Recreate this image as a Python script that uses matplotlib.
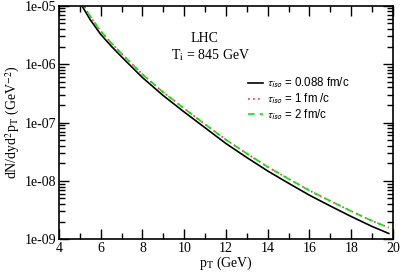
import numpy as np
import matplotlib
matplotlib.use('Agg')
import matplotlib.pyplot as plt
from matplotlib.ticker import LogLocator, MultipleLocator, NullFormatter

plt.rcParams['font.family'] = 'Liberation Serif'
plt.rcParams['mathtext.fontset'] = 'stix'

# photon spectra (log10 of dN/dyd2pT)
pT = [5.1, 5.5, 6.0, 6.5, 7.0, 8.0, 9.0, 10.0, 11.0, 12.0, 13.0, 14.0, 15.0, 16.0, 17.0, 18.0, 19.0, 19.8]
logTau0088 = [-5.00, -5.24, -5.49, -5.69, -5.875, -6.23, -6.54, -6.82, -7.09, -7.36, -7.60, -7.83, -8.04, -8.245, -8.43, -8.61, -8.78, -8.90]
logTau1 = [-4.945, -5.185, -5.435, -5.635, -5.82, -6.175, -6.483, -6.76, -7.03, -7.295, -7.532, -7.76, -7.965, -8.165, -8.344, -8.518, -8.684, -8.80]
logTau2 = [-4.945, -5.185, -5.435, -5.635, -5.82, -6.175, -6.483, -6.76, -7.03, -7.295, -7.532, -7.76, -7.965, -8.165, -8.344, -8.518, -8.684, -8.80]

labels = [r'$\tau_{\mathsf{iso}}$ = 0.088 fm/c', r'$\tau_{\mathsf{iso}}$ = 1 fm /c', r'$\tau_{\mathsf{iso}}$ = 2 fm/c']
yTicks = [1e-9, 1e-8, 1e-7, 1e-6, 1e-5]
yTickLabels = ['1e-09', '1e-08', '1e-07', '1e-06', '1e-05']
xTicks = [4, 6, 8, 10, 12, 14, 16, 18, 20]


def main():
    fig = plt.figure(figsize=(4.01, 2.73), dpi=100)
    ax = fig.add_axes([0.147, 0.1234, 0.833, 0.8556])

    ax.plot(pT, 10**np.array(logTau0088), color='black', lw=1.2, label=labels[0])
    ax.plot(pT, 10**np.array(logTau1), color='#ff3030', lw=1.2, linestyle=(0, (1, 2)), label=labels[1])
    ax.plot(pT, 10**np.array(logTau2), color='#00ee00', lw=1.2, linestyle=(0, (4, 3)), label=labels[2])

    ax.set_yscale('log')
    ax.set_xlim(4, 20)
    ax.set_ylim(1e-9, 1e-5)
    ax.set_xticks(xTicks)
    ax.set_xticklabels([str(x) for x in xTicks])
    ax.xaxis.set_minor_locator(MultipleLocator(1))
    ax.set_yticks(yTicks)
    ax.set_yticklabels(yTickLabels)
    ax.yaxis.set_minor_locator(LogLocator(base=10, subs=np.arange(2, 10), numticks=20))
    ax.yaxis.set_minor_formatter(NullFormatter())

    ax.tick_params(which='both', direction='in', top=True, right=True, width=1.0, labelsize=10, pad=2)
    ax.tick_params(which='major', length=7)
    ax.tick_params(which='minor', length=4)
    for s in ax.spines.values():
        s.set_linewidth(1.2)

    ax.set_xlabel(r'p$_\mathrm{T}$ (GeV)', fontsize=10, labelpad=0)
    ax.set_ylabel(r'dN/dyd$^2$p$_\mathrm{T}$ (GeV$^{-2}$)', fontsize=10, labelpad=2)

    ax.text(0.436, 0.846, 'LHC', transform=ax.transAxes, fontsize=10, ha='center', va='baseline')
    ax.text(0.455, 0.772, r'T$_\mathrm{i}$ = 845 GeV', transform=ax.transAxes, fontsize=10,
            ha='center', va='baseline')

    ax.legend(loc='upper left', bbox_to_anchor=(0.548, 0.725), frameon=False,
              prop={'family': 'Liberation Sans', 'size': 8.3}, handlelength=1.3,
              handletextpad=0.4, labelspacing=0.12, borderpad=0)

    fig.savefig('out.png', dpi=100)


if __name__ == '__main__':
    main()
